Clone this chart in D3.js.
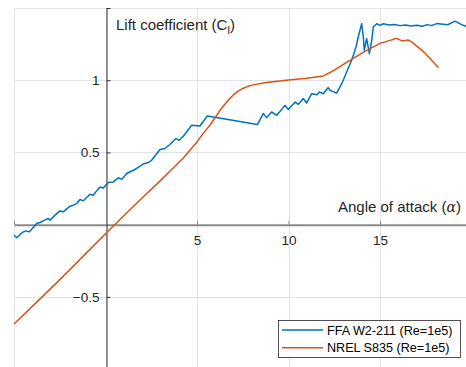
<!DOCTYPE html>
<html>
<head>
<meta charset="utf-8">
<script src="https://cdn.jsdelivr.net/npm/d3@7"></script>
<style>
  html, body { margin: 0; padding: 0; background: #fff; }
  svg { display: block; font-family: "Liberation Sans", Arial, sans-serif; }
</style>
</head>
<body>
<svg id="chart" width="466" height="367"></svg>
<script>
// Lift coefficient vs angle of attack, two airfoils at Re = 1e5
const seriesNames = ["FFA W2-211 (Re=1e5)", "NREL S835 (Re=1e5)"];
const seriesColors = ["#0072BD", "#D95319"];

// [alpha (deg), Cl]
const ffaW2211 = [
  [-5.0,-0.073],[-4.85,-0.091],[-4.67,-0.068],[-4.49,-0.050],[-4.34,-0.043],[-4.16,-0.050],
  [-3.95,-0.019],[-3.76,0.008],[-3.58,0.015],[-3.40,0.026],[-3.13,0.043],[-3.03,0.031],
  [-2.76,0.066],[-2.49,0.095],[-2.31,0.089],[-1.94,0.128],[-1.76,0.135],[-1.57,0.146],
  [-1.39,0.174],[-1.21,0.165],[-0.85,0.211],[-0.67,0.204],[-0.45,0.239],[-0.30,0.261],
  [-0.12,0.254],[0.15,0.292],[0.43,0.296],[0.70,0.324],[0.89,0.315],[1.16,0.354],
  [1.52,0.377],[1.70,0.389],[2.07,0.420],[2.34,0.430],[2.52,0.446],[2.98,0.520],
  [3.25,0.527],[3.52,0.555],[3.85,0.596],[4.02,0.584],[4.25,0.612],[4.71,0.688],
  [5.16,0.683],[5.56,0.752],[5.89,0.745],[8.30,0.693],[8.62,0.769],[8.81,0.741],
  [9.08,0.780],[9.36,0.757],[9.81,0.826],[9.99,0.797],[10.36,0.849],[10.54,0.833],
  [10.81,0.873],[10.99,0.842],[11.27,0.907],[11.57,0.900],[11.68,0.918],[11.90,0.907],
  [12.17,0.949],[12.27,0.930],[12.63,0.911],[12.91,0.976],[13.18,1.057],[13.45,1.138],
  [13.69,1.230],[13.81,1.299],[14.00,1.391],[14.09,1.299],[14.14,1.207],[14.27,1.288],
  [14.42,1.184],[14.55,1.276],[14.63,1.368],[14.82,1.391],[15.00,1.380],[15.18,1.391],
  [15.50,1.382],[15.80,1.386],[16.10,1.378],[16.40,1.383],[16.70,1.376],[17.00,1.380],
  [17.30,1.374],[17.60,1.385],[17.80,1.378],[18.10,1.392],[18.44,1.388],[18.70,1.384],
  [19.10,1.409],[19.54,1.380],[19.75,1.373]
];

const nrelS835 = [
  [-5.0,-0.688],[-4.0,-0.566],[-3.0,-0.443],[-2.0,-0.318],[-1.0,-0.190],[0.0,-0.063],
  [0.5,0.000],[1.0,0.062],[2.0,0.185],[3.0,0.305],[3.5,0.368],[4.25,0.462],
  [5.0,0.573],[5.3,0.625],[5.7,0.688],[6.0,0.742],[6.25,0.790],[6.5,0.830],
  [6.75,0.868],[7.0,0.900],[7.25,0.925],[7.5,0.943],[7.75,0.956],[8.0,0.966],
  [8.7,0.983],[9.5,0.994],[10.0,1.001],[11.0,1.014],[11.9,1.030],[12.3,1.055],
  [13.2,1.125],[14.1,1.195],[15.0,1.255],[15.55,1.276],[15.9,1.290],[16.2,1.272],
  [16.55,1.278],[16.75,1.264],[17.4,1.195],[18.2,1.087]
];

const xTicks = [-5, 0, 5, 10, 15, 20];
const yTicks = [-1, -0.5, 0, 0.5, 1, 1.5];
const xTickLabels = [5, 10, 15];
const yTickLabels = [-0.5, 0.5, 1];

const svg = d3.select("#chart");
const x = d3.scaleLinear().domain([-5, 20]).range([14, 471.5]);
const y = d3.scaleLinear().domain([-1, 1.5]).range([369.1, 8]);

// grid
const grid = svg.append("g").attr("stroke", "#e3e3e3").attr("stroke-width", 1);
grid.selectAll(".gx").data(xTicks).join("line")
  .attr("x1", d => Math.round(x(d)) + 0.5).attr("x2", d => Math.round(x(d)) + 0.5)
  .attr("y1", y(1.5)).attr("y2", y(-1));
grid.selectAll(".gy").data(yTicks).join("line")
  .attr("y1", d => Math.round(y(d)) + 0.5).attr("y2", d => Math.round(y(d)) + 0.5)
  .attr("x1", x(-5)).attr("x2", x(20));

// x axis through the origin, ticks pointing up
const xAxis = d3.axisBottom(x)
  .tickValues([-5, 5, 10, 15, 20])
  .tickSizeInner(-4).tickSizeOuter(0).tickPadding(11)
  .tickFormat(d => xTickLabels.includes(d) ? d3.format("")(d) : "");
const gx = svg.append("g").attr("transform", `translate(0,${y(0)})`).call(xAxis);
gx.select(".domain").attr("stroke", "#8a8a8a").attr("stroke-width", 2);
gx.selectAll(".tick line").attr("stroke", "#8a8a8a").attr("stroke-width", 1);
gx.selectAll(".tick text").attr("font-size", 13.5).attr("fill", "#262626")
  .attr("font-family", "Liberation Sans, Arial, sans-serif");

// y axis through the origin, ticks pointing right
const yAxis = d3.axisLeft(y)
  .tickValues([-1, -0.5, 0.5, 1, 1.5])
  .tickSizeInner(-4).tickSizeOuter(0).tickPadding(7)
  .tickFormat(d => yTickLabels.includes(d) ? d3.format("")(d) : "");
const gy = svg.append("g").attr("transform", `translate(${Math.round(x(0)) + 0.5},0)`).call(yAxis);
gy.select(".domain").attr("stroke", "#303030").attr("stroke-width", 1);
gy.selectAll(".tick line").attr("stroke", "#303030");
gy.selectAll(".tick text").attr("font-size", 13.5).attr("fill", "#262626")
  .attr("font-family", "Liberation Sans, Arial, sans-serif");

// curves
const line = d3.line().x(d => x(d[0])).y(d => y(d[1]));
[ffaW2211, nrelS835].forEach((data, i) => {
  svg.append("path").datum(data)
    .attr("fill", "none").attr("stroke", seriesColors[i])
    .attr("stroke-width", 1.5).attr("stroke-linejoin", "round")
    .attr("d", line);
});

// axis labels
const yl = svg.append("text").attr("x", 116).attr("y", 30)
  .attr("font-size", 15).attr("fill", "#262626");
yl.append("tspan").text("Lift coefficient (C");
yl.append("tspan").attr("font-size", 11).attr("dy", 4).text("l");
yl.append("tspan").attr("dy", -4).text(")");

const xl = svg.append("text").attr("x", 338).attr("y", 212)
  .attr("font-size", 15).attr("fill", "#262626");
xl.append("tspan").text("Angle of attack (");
xl.append("tspan").attr("font-family", "DejaVu Serif, Liberation Serif, serif")
  .attr("font-style", "italic").attr("font-size", 14).text("α");
xl.append("tspan").text(")");

// legend
const lg = svg.append("g").attr("transform", "translate(278,320)");
lg.append("rect").attr("x", 0.5).attr("y", 0.5).attr("width", 182).attr("height", 37)
  .attr("fill", "#fff").attr("stroke", "#262626").attr("stroke-width", 0.8);
seriesNames.forEach((name, i) => {
  const cy = 10 + i * 17.7;
  lg.append("line").attr("x1", 4).attr("x2", 45).attr("y1", cy).attr("y2", cy)
    .attr("stroke", seriesColors[i]).attr("stroke-width", 1.5);
  lg.append("text").attr("x", 49).attr("y", cy + 4.5)
    .attr("font-size", 12.6).attr("fill", "#000").text(name);
});
</script>
</body>
</html>
